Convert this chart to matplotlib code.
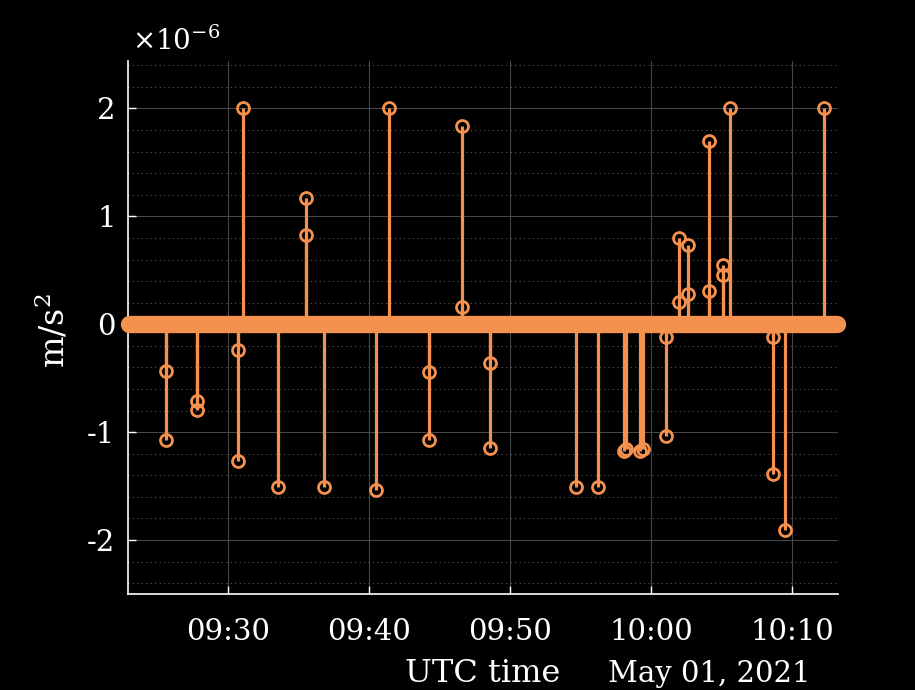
#!/usr/bin/env python3
"""Stem plot of acceleration events (MATLAB dark style) on a UTC time axis."""

from datetime import datetime

import matplotlib

matplotlib.use("Agg")
import matplotlib.dates as mdates
import matplotlib.pyplot as plt
from matplotlib.ticker import MultipleLocator


DAY = "2021-05-01"

# event times (UTC) and accelerations in units of 1e-6 m/s^2
EVENT_TIMES = [
    "09:25:36", "09:25:36",
    "09:27:49", "09:27:49",
    "09:30:44", "09:30:44",
    "09:31:05",
    "09:33:31",
    "09:35:32", "09:35:32",
    "09:36:49",
    "09:40:30",
    "09:41:25",
    "09:44:15", "09:44:15",
    "09:46:34", "09:46:34",
    "09:48:35", "09:48:35",
    "09:54:40",
    "09:56:13",
    "09:58:04", "09:58:14",
    "09:59:15", "09:59:25",
    "10:01:04", "10:01:04",
    "10:02:01", "10:02:01",
    "10:02:36", "10:02:36",
    "10:04:07", "10:04:07",
    "10:05:05", "10:05:05",
    "10:05:38",
    "10:08:40", "10:08:40",
    "10:09:30",
    "10:12:17",
]
EVENT_VALUES = [
    -0.43, -1.07,
    -0.71, -0.79,
    -0.24, -1.27,
    2.00,
    -1.51,
    1.17, 0.83,
    -1.51,
    -1.54,
    2.00,
    -0.44, -1.07,
    1.84, 0.16,
    -0.36, -1.15,
    -1.51,
    -1.51,
    -1.17, -1.16,
    -1.17, -1.16,
    -0.12, -1.04,
    0.80, 0.21,
    0.73, 0.28,
    1.70, 0.31,
    0.55, 0.46,
    2.00,
    -0.12, -1.39,
    -1.91,
    2.00,
]

# the record itself: all other samples are zero
RECORD_START = "09:23:00"
RECORD_END = "10:13:10"
VIEW_START = "09:22:54"
VIEW_END = "10:13:16"

Y_TICKS = [-2, -1, 0, 1, 2]
Y_LIMITS = (-2.5, 2.44)

ORANGE = "#f5914e"


def to_time(hms: str) -> datetime:
    return datetime.strptime(f"{DAY} {hms}", "%Y-%m-%d %H:%M:%S")


def main() -> None:
    plt.rcParams["font.family"] = "DejaVu Serif"
    plt.rcParams["mathtext.fontset"] = "dejavuserif"

    fig = plt.figure(figsize=(9.15, 6.9), dpi=100, facecolor="black")
    ax = fig.add_axes([128 / 915, 96 / 690, 710 / 915, 533 / 690], facecolor="black")

    times = [to_time(t) for t in EVENT_TIMES]

    # dense zero samples form a thick band
    ax.plot(
        [to_time(RECORD_START), to_time(RECORD_END)],
        [0, 0],
        color=ORANGE,
        linewidth=12.5,
        solid_capstyle="round",
        clip_on=False,
        zorder=3,
    )
    ax.vlines(times, 0, EVENT_VALUES, colors=ORANGE, linewidth=2.3, zorder=3)
    ax.plot(
        times,
        EVENT_VALUES,
        linestyle="None",
        marker="o",
        markersize=8.6,
        markerfacecolor="none",
        markeredgecolor=ORANGE,
        markeredgewidth=2.0,
        zorder=4,
    )

    ax.set_xlim(to_time(VIEW_START), to_time(VIEW_END))
    ax.set_ylim(*Y_LIMITS)
    ax.set_yticks(Y_TICKS)
    ax.set_yticklabels([str(v) for v in Y_TICKS])
    ax.yaxis.set_minor_locator(MultipleLocator(0.2))
    ax.xaxis.set_major_locator(mdates.MinuteLocator(byminute=range(0, 60, 10)))
    ax.xaxis.set_major_formatter(mdates.DateFormatter("%H:%M"))

    ax.grid(True, which="major", color="#474747", linewidth=0.8, linestyle="-")
    ax.grid(True, which="minor", axis="y", color="#5a5a5a", linewidth=0.8, linestyle=(0, (1, 3)))
    ax.set_axisbelow(True)

    for side in ("top", "right"):
        ax.spines[side].set_visible(False)
    for side in ("left", "bottom"):
        ax.spines[side].set_color("white")
        ax.spines[side].set_linewidth(1.2)

    ax.tick_params(axis="both", which="major", direction="in", length=6, width=1.0,
                   color="white", labelcolor="white", labelsize=21)
    ax.tick_params(axis="x", pad=17)
    ax.tick_params(axis="y", pad=9)
    ax.tick_params(which="minor", length=0)

    ax.set_xlabel("UTC time", color="white", fontsize=23)
    ax.xaxis.set_label_coords(0.5, -0.165)
    ax.xaxis.label.set_verticalalignment("baseline")
    ax.text(0.9606, -0.165, "May 01, 2021", transform=ax.transAxes, ha="right",
            va="baseline", color="white", fontsize=21)

    ax.set_ylabel(r"m/s$^2$", color="white", fontsize=24)
    ax.yaxis.set_label_coords(-0.08, 0.495)

    fig.text(132 / 915, 1 - 50 / 690, r"$\times\mathdefault{10^{-6}}$", ha="left",
             va="baseline", color="white", fontsize=20)

    fig.savefig("out.png", dpi=100, facecolor="black")
    plt.close(fig)


if __name__ == "__main__":
    main()
